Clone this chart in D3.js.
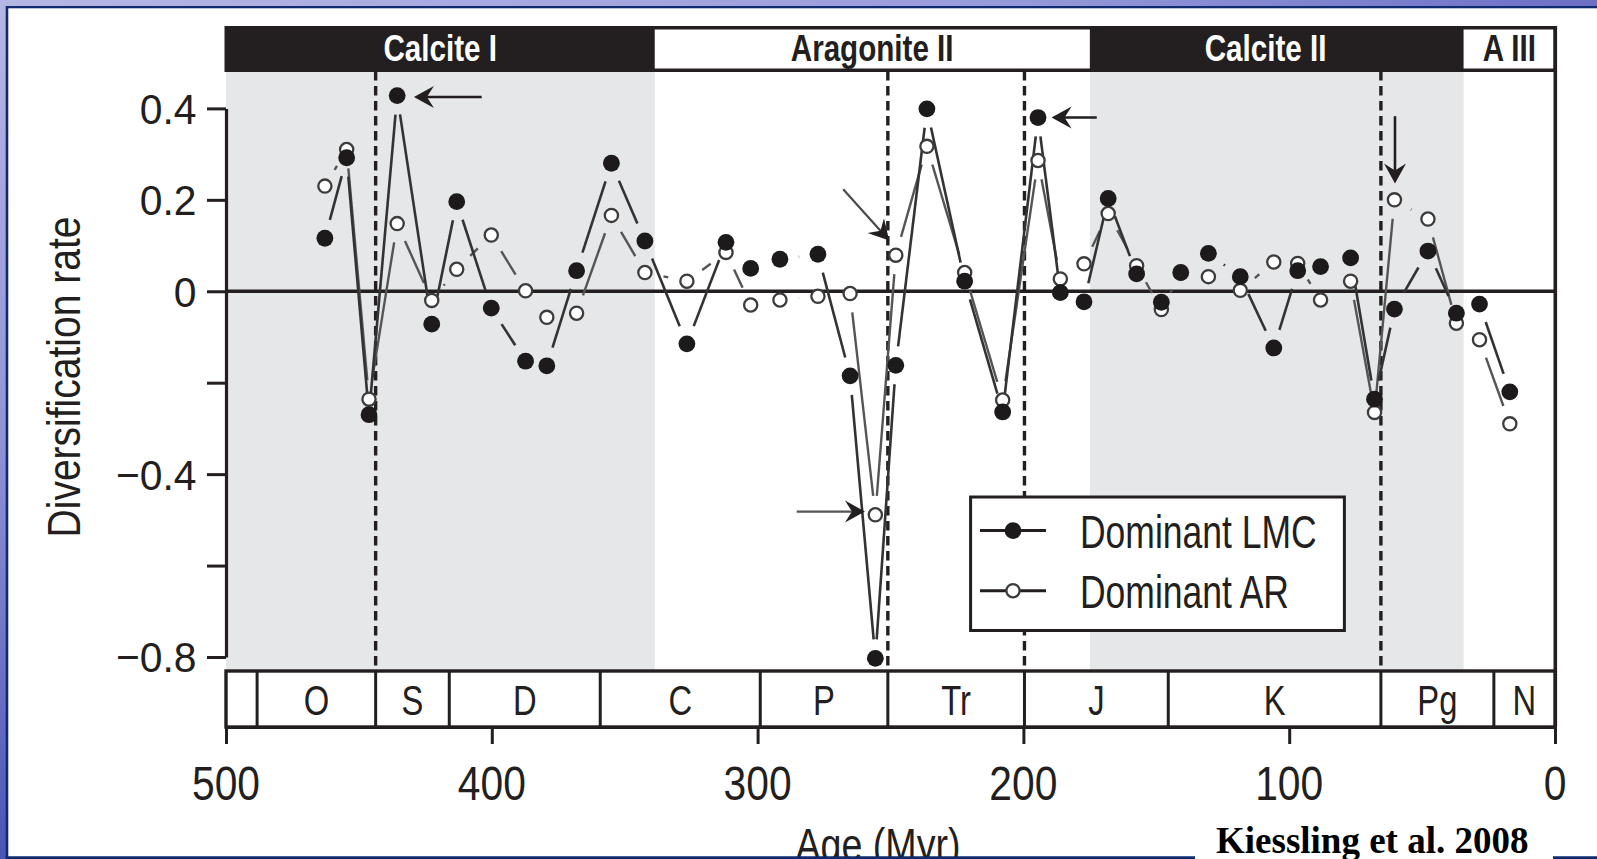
<!DOCTYPE html>
<html>
<head>
<meta charset="utf-8">
<script src="https://cdn.jsdelivr.net/npm/d3@7"></script>
<style>
  html, body { margin: 0; padding: 0; overflow: hidden; background: #fff; }
  svg { display: block; }
</style>
</head>
<body>
<svg id="chart" width="1597" height="859"></svg>
<script>
// Diversification rates of reef builders, split by dominant skeletal mineralogy
// (low-Mg calcite vs aragonite), plotted against geological age.

const ages = [462.8, 454.6, 446.2, 435.6, 422.6, 413.2, 400.2, 387.3, 379.3, 368.1,
              355.0, 342.4, 326.6, 311.9, 302.6, 291.6, 277.3, 265.2, 255.7, 248.0,
              236.3, 222.1, 207.8, 194.5, 186.1, 177.2, 168.1, 157.4, 148.1, 140.8,
              130.4, 118.4, 105.8, 96.8, 88.2, 76.9, 67.9, 60.4, 47.8, 37.1,
              28.4, 17.0];
const lmcRates = [0.116, 0.292, -0.270, 0.428, -0.072, 0.196, -0.037, -0.153, -0.163, 0.045,
                  0.280, 0.110, -0.115, 0.107, 0.050, 0.070, 0.081, -0.185, -0.803, -0.162,
                  0.399, 0.022, -0.264, 0.380, -0.003, -0.023, 0.203, 0.038, -0.024, 0.041,
                  0.083, 0.032, -0.124, 0.045, 0.054, 0.073, -0.236, -0.039, 0.088, -0.048,
                  -0.028, -0.220];
const arRates = [0.230, 0.310, -0.236, 0.148, -0.020, 0.048, 0.123, 0.001, -0.057, -0.048,
                 0.166, 0.041, 0.022, 0.085, -0.030, -0.019, -0.011, -0.005, -0.489, 0.079,
                 0.317, 0.041, -0.238, 0.286, 0.027, 0.060, 0.170, 0.056, -0.040, 0.040,
                 0.032, 0.002, 0.064, 0.061, -0.019, 0.022, -0.265, 0.200, 0.158, -0.070,
                 -0.106, -0.290];

const seriesNames = ["Dominant LMC", "Dominant AR"];

const periodNames = ["", "O", "S", "D", "C", "P", "Tr", "J", "K", "Pg", "N"];
const periodBounds = [500, 488.3, 443.7, 416.0, 359.2, 299.0, 251.0, 199.6, 145.5, 65.5, 23.0, 0];

const seaNames = ["Calcite I", "Aragonite II", "Calcite II", "A III"];
const seaBounds = [500, 338.7, 175.0, 34.4, 0];
const seaLabelAges = [419.4, 256.9, 108.9, 17.2];
const seaIsCalcite = [true, false, true, false];

const extinctionAges = [443.7, 251.0, 199.6, 65.5];

const xTicks = [500, 400, 300, 200, 100, 0];
const xTickLabels = ["500", "400", "300", "200", "100", "0"];
const yTicks = [0.4, 0.2, 0, -0.2, -0.4, -0.6, -0.8];
const yTickLabels = ["0.4", "0.2", "0", "", "\u22120.4", "", "\u22120.8"];

// annotation arrows: [age, rate] of tail and tip
const arrowTails = [[403.8, 0.425], [172.4, 0.380], [267.8, 0.223], [285.3, -0.482], [60.2, 0.383]];
const arrowTips  = [[429.3, 0.425], [189.4, 0.380], [250.5, 0.111], [259.6, -0.482], [60.2, 0.236]];
const arrowColors = ["#231f20", "#231f20", "#4a4a4a", "#555", "#231f20"];

// ---------------------------------------------------------------------------
const W = 1597, H = 859;
const L = 226, R = 1555, T = 71, B = 671;   // plot area
const INK = "#231f20";
const SANS = "'Liberation Sans', Arial, Helvetica, sans-serif";

const svg = d3.select("#chart");
const x = d3.scaleLinear().domain([500, 0]).range([L, R]);
const y = d3.scaleLinear().domain([-0.8, 0.4]).range([657, 108.4]);

// text helper with horizontal condensing
function label(g, px, py, txt, o) {
  o = o || {};
  const t = g.append("text")
    .attr("transform", `translate(${px},${py})` + (o.rotate ? ` rotate(${o.rotate})` : "") + ` scale(${o.sx || 1},1)`)
    .attr("text-anchor", o.anchor || "middle")
    .attr("font-family", o.family || SANS)
    .attr("font-size", o.size || 40)
    .attr("font-weight", o.weight || "normal")
    .attr("fill", o.fill || INK)
    .text(txt);
  return t;
}

// ---- slide background and panel -------------------------------------------
const defs = svg.append("defs");
const gTop = defs.append("linearGradient").attr("id", "bgTop").attr("x1", 0).attr("x2", 1).attr("y1", 0).attr("y2", 0);
gTop.append("stop").attr("offset", 0).attr("stop-color", "#b6b6e4");
gTop.append("stop").attr("offset", 0.6).attr("stop-color", "#9a9ddb");
gTop.append("stop").attr("offset", 1).attr("stop-color", "#6c70c6");
const gLeft = defs.append("linearGradient").attr("id", "bgLeft").attr("x1", 0).attr("x2", 0).attr("y1", 0).attr("y2", 1);
gLeft.append("stop").attr("offset", 0).attr("stop-color", "#b6b6e4");
gLeft.append("stop").attr("offset", 0.5).attr("stop-color", "#9294d8");
gLeft.append("stop").attr("offset", 1).attr("stop-color", "#4c55b6");

svg.append("rect").attr("x", 0).attr("y", 0).attr("width", W).attr("height", H).attr("fill", "url(#bgLeft)");
svg.append("rect").attr("x", 0).attr("y", 0).attr("width", W).attr("height", 7).attr("fill", "url(#bgTop)");
svg.append("rect").attr("x", 5.7).attr("y", 6).attr("width", W).attr("height", H).attr("fill", "#0f2a6e");
svg.append("rect").attr("x", 8.3).attr("y", 8.3).attr("width", W).attr("height", 848.2).attr("fill", "#fff");

// ---- calcite-sea shading ---------------------------------------------------
const shade = svg.append("g");
seaNames.forEach((n, i) => {
  if (!seaIsCalcite[i]) return;
  shade.append("rect")
    .attr("x", x(seaBounds[i])).attr("y", T)
    .attr("width", x(seaBounds[i + 1]) - x(seaBounds[i])).attr("height", B - T)
    .attr("fill", "#e6e7e9");
});

// ---- ocean-chemistry strip --------------------------------------------------
const strip = svg.append("g");
strip.append("rect").attr("x", L - 1.5).attr("y", 26).attr("width", R - L + 3.5).attr("height", 46).attr("fill", INK);
seaNames.forEach((n, i) => {
  if (seaIsCalcite[i]) return;
  strip.append("rect")
    .attr("x", x(seaBounds[i])).attr("y", 29.5)
    .attr("width", Math.min(x(seaBounds[i + 1]), R - 1.5) - x(seaBounds[i])).attr("height", 39)
    .attr("fill", "#fff");
});
seaNames.forEach((n, i) => {
  label(strip, x(seaLabelAges[i]), 61, n, {
    size: 37, sx: 0.8, weight: "bold", fill: seaIsCalcite[i] ? "#fff" : INK
  });
});

// ---- mass-extinction boundaries ---------------------------------------------
svg.append("g").selectAll("line").data(extinctionAges).join("line")
  .attr("x1", d => x(d)).attr("x2", d => x(d))
  .attr("y1", T).attr("y2", B)
  .attr("stroke", INK).attr("stroke-width", 3.4).attr("stroke-dasharray", "9.5,5.5");

// zero line
svg.append("line").attr("x1", L).attr("x2", R).attr("y1", y(0)).attr("y2", y(0))
  .attr("stroke", INK).attr("stroke-width", 3.3);

// right frame edge
svg.append("line").attr("x1", R + 0.3).attr("x2", R + 0.3).attr("y1", 26).attr("y2", 727)
  .attr("stroke", INK).attr("stroke-width", 3.6);

// ---- series: point-and-gap lines -------------------------------------------
function gapSegments(vals, gap) {
  const pts = ages.map((a, i) => [x(a), y(vals[i])]);
  const segs = [];
  for (let i = 0; i < pts.length - 1; i++) {
    const [x1, y1] = pts[i], [x2, y2] = pts[i + 1];
    const dx = x2 - x1, dy = y2 - y1, len = Math.hypot(dx, dy);
    if (len > 2 * gap) {
      const ux = dx / len, uy = dy / len;
      segs.push([x1 + ux * gap, y1 + uy * gap, x2 - ux * gap, y2 - uy * gap]);
    }
  }
  return segs;
}
const GAP = 19;
const lineGroup = svg.append("g").attr("fill", "none").attr("stroke-linecap", "butt");
lineGroup.selectAll("line.ar").data(gapSegments(arRates, GAP)).join("line").attr("class", "ar")
  .attr("x1", d => d[0]).attr("y1", d => d[1]).attr("x2", d => d[2]).attr("y2", d => d[3])
  .attr("stroke", "#555").attr("stroke-width", 2.4);
lineGroup.selectAll("line.lmc").data(gapSegments(lmcRates, GAP)).join("line").attr("class", "lmc")
  .attr("x1", d => d[0]).attr("y1", d => d[1]).attr("x2", d => d[2]).attr("y2", d => d[3])
  .attr("stroke", "#333").attr("stroke-width", 2.6);

svg.append("g").selectAll("circle").data(ages).join("circle")
  .attr("cx", d => x(d)).attr("cy", (d, i) => y(arRates[i])).attr("r", 6.6)
  .attr("fill", "#fff").attr("stroke", "#3c3c3c").attr("stroke-width", 2.3);
svg.append("g").selectAll("circle").data(ages).join("circle")
  .attr("cx", d => x(d)).attr("cy", (d, i) => y(lmcRates[i])).attr("r", 8.4)
  .attr("fill", "#1c1a1b");

// ---- arrows -----------------------------------------------------------------
const arrows = svg.append("g");
arrowTails.forEach((tail, i) => {
  const tip = arrowTips[i];
  const x1 = x(tail[0]), y1 = y(tail[1]), x2 = x(tip[0]), y2 = y(tip[1]);
  const ang = Math.atan2(y2 - y1, x2 - x1);
  const back = 12;
  arrows.append("line")
    .attr("x1", x1).attr("y1", y1)
    .attr("x2", x2 - Math.cos(ang) * back).attr("y2", y2 - Math.sin(ang) * back)
    .attr("stroke", arrowColors[i]).attr("stroke-width", i === 2 || i === 3 ? 2.2 : 2.6);
  arrows.append("path")
    .attr("d", "M0,0 L-20,-11 L-13,0 L-20,11 Z")
    .attr("transform", `translate(${x2},${y2}) rotate(${ang * 180 / Math.PI})`)
    .attr("fill", INK);
});

// ---- legend -----------------------------------------------------------------
const leg = svg.append("g");
leg.append("rect").attr("x", 970.6).attr("y", 497).attr("width", 373.8).attr("height", 133.5)
  .attr("fill", "#fff").attr("stroke", INK).attr("stroke-width", 3);
const legRows = [530.6, 590.7];
seriesNames.forEach((n, i) => {
  const ry = legRows[i];
  leg.append("line").attr("x1", 980).attr("x2", 1046).attr("y1", ry).attr("y2", ry)
    .attr("stroke", INK).attr("stroke-width", 3);
  if (i === 0) {
    leg.append("circle").attr("cx", 1013).attr("cy", ry).attr("r", 8.4).attr("fill", "#1c1a1b");
  } else {
    leg.append("circle").attr("cx", 1013).attr("cy", ry).attr("r", 6.6)
      .attr("fill", "#fff").attr("stroke", "#3c3c3c").attr("stroke-width", 2.3);
  }
  label(leg, 1080, ry + 17.5, n, { size: 47, sx: 0.755, anchor: "start" });
});

// ---- geological periods bar -------------------------------------------------
const per = svg.append("g");
per.append("rect").attr("x", L).attr("y", B).attr("width", R - L).attr("height", 56)
  .attr("fill", "#fff").attr("stroke", INK).attr("stroke-width", 3.4);
per.selectAll("line").data(periodBounds.slice(1, -1)).join("line")
  .attr("x1", d => x(d)).attr("x2", d => x(d)).attr("y1", B).attr("y2", B + 56)
  .attr("stroke", INK).attr("stroke-width", 3);
periodNames.forEach((n, i) => {
  if (!n) return;
  label(per, x((periodBounds[i] + periodBounds[i + 1]) / 2), 715, n, { size: 42, sx: 0.78 });
});

// ---- axes -------------------------------------------------------------------
const yAxis = svg.append("g").attr("transform", `translate(${L},0)`)
  .call(d3.axisLeft(y).tickValues(yTicks).tickSize(19).tickSizeOuter(0).tickFormat(""));
yAxis.select(".domain").attr("stroke", INK).attr("stroke-width", 3.2);
yAxis.selectAll(".tick line").attr("stroke", INK).attr("stroke-width", 3);
yTicks.forEach((v, i) => {
  if (!yTickLabels[i]) return;
  label(svg, 196.5, y(v) + 15.4, yTickLabels[i], { size: 43, sx: 0.95, anchor: "end" });
});

const xAxis = svg.append("g").attr("transform", `translate(0,${B + 56})`)
  .call(d3.axisBottom(x).tickValues(xTicks).tickSize(17).tickSizeOuter(0).tickFormat(""));
xAxis.select(".domain").attr("stroke", INK).attr("stroke-width", 3.2);
xAxis.selectAll(".tick line").attr("stroke", INK).attr("stroke-width", 3);
xTicks.forEach((v, i) => {
  label(svg, x(v), 800, xTickLabels[i], { size: 48, sx: 0.85 });
});

// axis titles
label(svg, 79.5, 377, "Diversification rate", { size: 47, sx: 0.83, rotate: -90 });
label(svg, 878, 861, "Age (Myr)", { size: 47, sx: 0.8 });

// panel bottom edge and citation
svg.append("rect").attr("x", 5.7).attr("y", 856.5).attr("width", W).attr("height", 3).attr("fill", "#0f2a6e");
svg.append("rect").attr("x", 1195).attr("y", 826).attr("width", 358).attr("height", 33).attr("fill", "#fff");
svg.append("text").attr("x", 1216).attr("y", 853)
  .attr("font-family", "'Liberation Serif', 'Times New Roman', serif")
  .attr("font-weight", "bold").attr("font-size", 37).attr("fill", "#000")
  .text("Kiessling et al. 2008");
</script>
</body>
</html>
